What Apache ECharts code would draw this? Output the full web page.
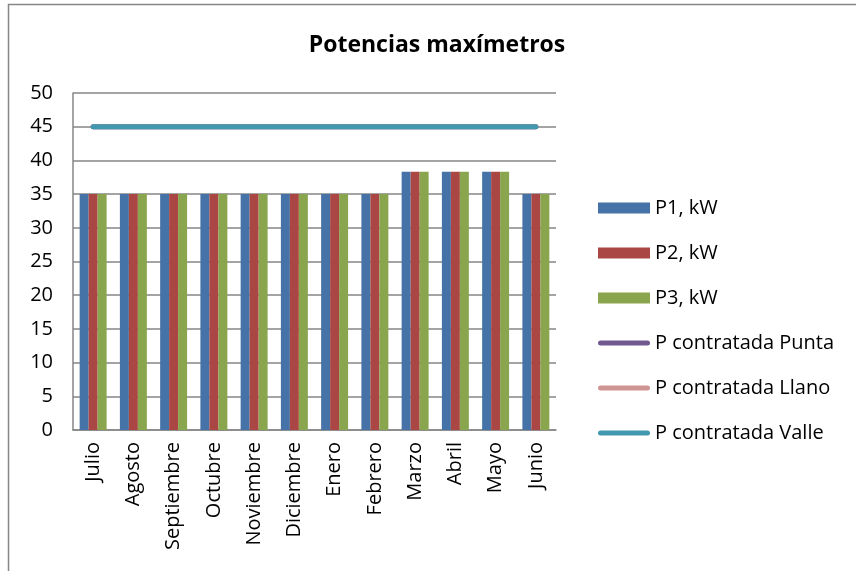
<!DOCTYPE html>
<html>
<head>
<meta charset="utf-8">
<script src="https://cdn.jsdelivr.net/npm/echarts@6/dist/echarts.min.js"></script>
<style>
  html, body { margin: 0; padding: 0; background: #fff; }
  #chart { width: 856px; height: 571px; }
</style>
</head>
<body>
<div id="chart"></div>
<script>
const months = ['Julio', 'Agosto', 'Septiembre', 'Octubre', 'Noviembre', 'Diciembre',
  'Enero', 'Febrero', 'Marzo', 'Abril', 'Mayo', 'Junio'];

const p1 = [35, 35, 35, 35, 35, 35, 35, 35, 38.3, 38.3, 38.3, 35];
const p2 = [35, 35, 35, 35, 35, 35, 35, 35, 38.3, 38.3, 38.3, 35];
const p3 = [35, 35, 35, 35, 35, 35, 35, 35, 38.3, 38.3, 38.3, 35];
const punta = [45, 45, 45, 45, 45, 45, 45, 45, 45, 45, 45, 45];
const llano = [45, 45, 45, 45, 45, 45, 45, 45, 45, 45, 45, 45];
const valle = [45, 45, 45, 45, 45, 45, 45, 45, 45, 45, 45, 45];

const font = '"Open Sans", sans-serif';
// thin bar with round ends, used as the legend icon of the line series
const lineIcon = 'path://M2.5,0H49.5A2.5,2.5,0,0,1,49.5,5H2.5A2.5,2.5,0,0,1,2.5,0Z';

const chart = echarts.init(document.getElementById('chart'));

const bar = (name, data, color) => ({
  name,
  type: 'bar',
  data,
  barGap: 0,
  barCategoryGap: '33%',
  itemStyle: { color },
});

const line = (name, data, color) => ({
  name,
  type: 'line',
  data,
  symbol: 'none',
  lineStyle: { color, width: 5, cap: 'round' },
  itemStyle: { color },
});

chart.setOption({
  animation: false,
  textStyle: { fontFamily: font },
  graphic: [
    {
      type: 'polyline',
      shape: { points: [[8.5, 571], [8.5, 4.5], [856, 4.5]] },
      style: { stroke: '#868686', lineWidth: 1.5, fill: null },
    },
    {
      type: 'text',
      x: 437,
      y: 45,
      style: {
        text: 'Potencias maxímetros',
        align: 'center',
        verticalAlign: 'middle',
        font: 'bold 23px "Open Sans", sans-serif',
        fill: '#000',
      },
    },
  ],
  grid: { left: 73, right: 300, top: 93, bottom: 141 },
  legend: {
    orient: 'vertical',
    left: 593,
    top: 193,
    itemWidth: 52,
    itemHeight: 11,
    itemGap: 25,
    textStyle: { fontSize: 20, color: '#000', lineHeight: 20, fontFamily: font },
    data: [
      { name: 'P1, kW', icon: 'rect' },
      { name: 'P2, kW', icon: 'rect' },
      { name: 'P3, kW', icon: 'rect' },
      { name: 'P contratada Punta', icon: lineIcon },
      { name: 'P contratada Llano', icon: lineIcon },
      { name: 'P contratada Valle', icon: lineIcon },
    ],
  },
  xAxis: {
    type: 'category',
    data: months,
    axisLine: { lineStyle: { color: '#868686', width: 1.5 } },
    axisTick: { show: false },
    axisLabel: { rotate: 90, fontSize: 20, color: '#000', margin: 12, fontFamily: font },
  },
  yAxis: {
    type: 'value',
    min: 0,
    max: 50,
    interval: 5,
    axisLine: { show: true, lineStyle: { color: '#868686', width: 1.5 } },
    axisTick: { show: false },
    splitLine: { lineStyle: { color: '#868686', width: 1.5 } },
    axisLabel: { fontSize: 20, color: '#000', margin: 20, fontFamily: font },
  },
  series: [
    bar('P1, kW', p1, '#4572A7'),
    bar('P2, kW', p2, '#AA4643'),
    bar('P3, kW', p3, '#89A54E'),
    line('P contratada Punta', punta, '#71588F'),
    line('P contratada Llano', llano, '#D09492'),
    line('P contratada Valle', valle, '#4198AF'),
  ],
});
</script>
</body>
</html>
